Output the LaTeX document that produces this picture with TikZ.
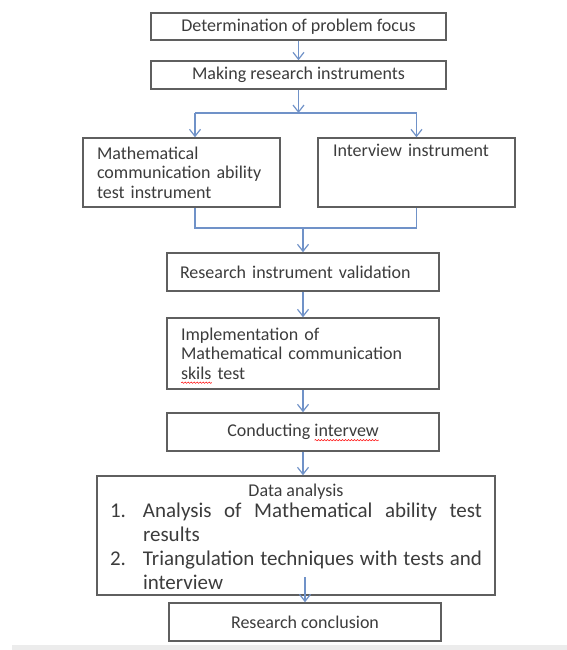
\documentclass[tikz,border=0pt]{standalone}
\usepackage{fontspec}
\setmainfont{Carlito}
\usetikzlibrary{arrows.meta,calc,decorations.pathmorphing}

\definecolor{boxgray}{RGB}{95,95,95}
\definecolor{txtgray}{RGB}{60,60,60}
\definecolor{linkblue}{RGB}{112,146,200}

\newcommand\smalltxt{\fontsize{18}{19.5}\selectfont}
\newcommand\bigtxt{\fontsize{21}{24}\selectfont}
\newsavebox\spellbox
\newlength\spelllen
\newcommand\spellwave[1]{\leavevmode\sbox\spellbox{#1}\setlength\spelllen{\wd\spellbox}%
	\rlap{\smash{\tikz[baseline=0pt]\draw[red, line width=0.5pt, decorate,
		decoration={snake, amplitude=0.7pt, segment length=3pt}] (0pt,-3.5pt) -- (\spelllen,-3.5pt);}}%
	\usebox\spellbox}

\tikzset{
	box/.style={draw=boxgray, line width=1.5pt, text=txtgray, font=\smalltxt, inner sep=0pt},
	link/.style={draw=linkblue, line width=1.2pt},
	arr/.style={link, -{Straight Barb[length=7pt,width=11pt]}}
}

\begin{document}
\begin{tikzpicture}[x=1pt, y=-1pt]
	\useasboundingbox (0,0) rectangle (567,650);
	\fill[gray!15] (12,645) rectangle (567,650);

	\node[box, minimum width=295, minimum height=27] (focus) at (298.5,26.5) {Determination of problem focus};
	\node[box, minimum width=295, minimum height=28] (making) at (298.5,75) {Making research instruments};
	\node[box, minimum height=69, inner xsep=14pt, text width=169pt, align=left] (mathtest) at (181.5,172.5)
		{Mathematical\\ communication~ability\\ test~instrument};
	\node[box, minimum height=69, inner xsep=15pt, text width=167pt, align=left] (inst) at (416.5,172.5)
		{Interview~instrument\\ \strut\\ \strut};
	\node[box, minimum height=38, inner xsep=13pt, text width=246pt, align=left] (valid) at (303,272)
		{Research instrument validation};
	\node[box, minimum height=71, inner xsep=14pt, text width=244pt, align=left] (implem) at (303,353.5)
		{Implementation~of\\ Mathematical~communication\\ \spellwave{skils}~test};
	\node[box, minimum width=272, minimum height=38] (conduct) at (303,432) {Conducting \spellwave{intervew}};
	\node[box, minimum height=119, inner xsep=13pt, text width=372pt, align=justify] (analysis) at (296,535.5)
		{{\centering\raisebox{-3.5pt}[12pt][4pt]{Data analysis}\par}
		{\bigtxt
		\hangindent=33pt\hangafter=1\noindent\makebox[33pt][l]{1.}Analysis of Mathematical ability test\linebreak results\par
		\hangindent=33pt\hangafter=1\noindent\makebox[33pt][l]{2.}Triangulation techniques with tests and\linebreak interview\par}};
	\node[box, minimum width=272, minimum height=38] (concl) at (305,622) {Research conclusion};

	\coordinate (split) at (298.5,113);
	\coordinate (splitL) at (195,113);
	\coordinate (splitR) at (416.5,113);
	\coordinate (joinL) at (195,228);
	\coordinate (joinR) at (416.5,228);
	\coordinate (join) at (303,228);

	\draw[arr] (focus) -- (making);
	\draw[arr] (making) -- (split);
	\draw[link] (splitL) -- (splitR);
	\draw[arr] (splitL) -- (splitL |- mathtest.north);
	\draw[arr] (splitR) -- (inst);
	\draw[link] (mathtest.south -| joinL) -- (joinL) -- (joinR) -- (inst);
	\draw[arr] (join) -- (valid);
	\draw[arr] (valid) -- (implem);
	\draw[arr] (implem) -- (conduct);
	\draw[arr] (conduct) -- (conduct |- analysis.north);
	\draw[arr] ($(concl.north)+(0,-25)$) -- (concl.north);
\end{tikzpicture}
\end{document}
